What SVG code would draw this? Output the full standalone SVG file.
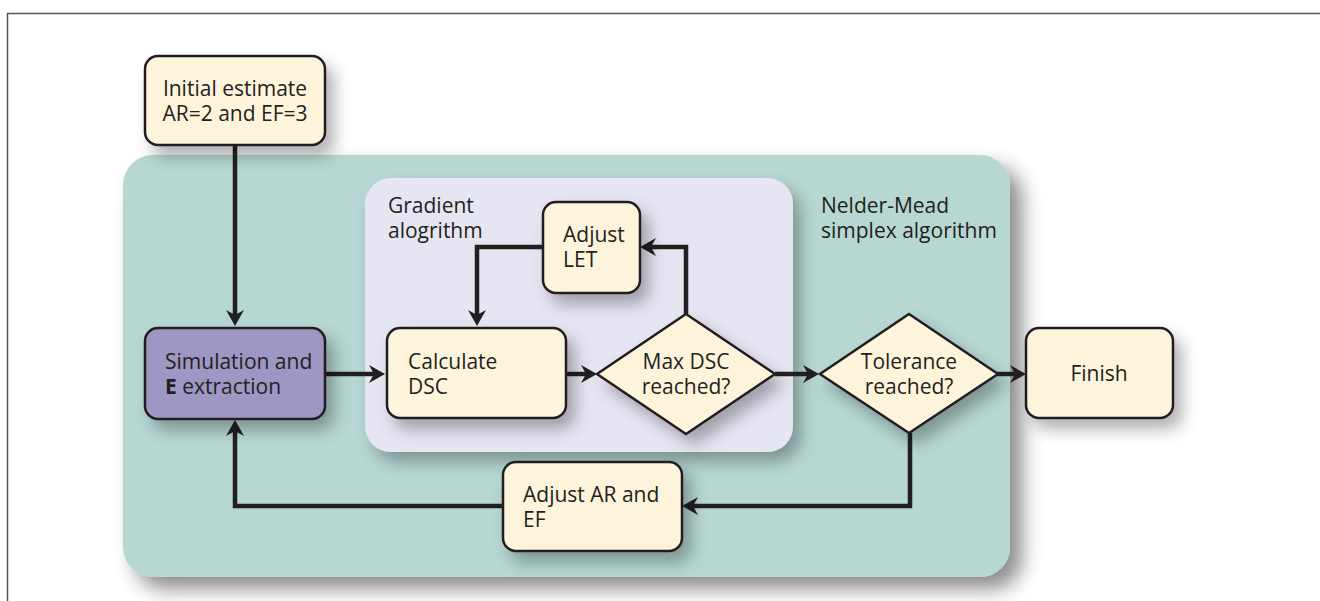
<svg xmlns="http://www.w3.org/2000/svg" width="1320" height="601" viewBox="0 0 1320 601">
<style>
.t{font-family:"Open Sans","Noto Sans",sans-serif;font-size:21px;fill:#231f20}
.box{fill:#fef4dc;stroke:#231f20;stroke-width:2.5}
.c{fill:none;stroke:#231f20;stroke-width:4.5;marker-end:url(#ah)}
</style>
<defs>
<filter id="sh" x="-30%" y="-30%" width="180%" height="180%">
<feDropShadow dx="8" dy="10" stdDeviation="8" flood-color="#000" flood-opacity="0.3"/>
</filter>
<filter id="shbig" x="-10%" y="-10%" width="125%" height="130%">
<feDropShadow dx="12" dy="12" stdDeviation="10" flood-color="#000" flood-opacity="0.45"/>
</filter>
<marker id="ah" markerUnits="userSpaceOnUse" markerWidth="16" markerHeight="18" viewBox="0 0 16 18" refX="5" refY="9" orient="auto">
<path d="M0,0 L16,9 L0,18 L5,9 Z" fill="#231f20"/>
</marker>
</defs>
<rect x="0" y="0" width="1320" height="601" fill="#fff"/>
<path d="M7.5,601 V13.5 H1320" fill="none" stroke="#555" stroke-width="1.5"/>

<g id="nelder-mead">
<rect x="123" y="155" width="887" height="422" rx="30" fill="#b6d7d2" filter="url(#shbig)"/>
<text class="t" x="821" y="213">Nelder-Mead</text>
<text class="t" x="821" y="238">simplex algorithm</text>
</g>
<g id="gradient">
<rect x="365" y="178" width="428" height="274" rx="26" fill="#e6e5f2" filter="url(#sh)"/>
<text class="t" x="388" y="213">Gradient</text>
<text class="t" x="388" y="238">alogrithm</text>
</g>

<g id="connectors">
<path class="c" d="M235,146 V315"/>
<path class="c" d="M325,374 H374"/>
<path class="c" d="M566,374 H586"/>
<path class="c" d="M775,374 H808"/>
<path class="c" d="M997,374 H1015"/>
<path class="c" d="M686,314 V247 H651"/>
<path class="c" d="M543,247 H477 V315"/>
<path class="c" d="M910,433 V506 H693"/>
<path class="c" d="M503,506 H235 V431"/>
</g>

<g id="initial">
<rect class="box" x="145" y="56" width="180" height="89" rx="13" filter="url(#sh)"/>
<text class="t" x="235" y="96" text-anchor="middle">Initial estimate</text>
<text class="t" x="235" y="121" text-anchor="middle">AR=2 and EF=3</text>
</g>
<g id="simulation">
<rect x="145" y="328" width="180" height="91" rx="13" fill="#9e96c3" stroke="#231f20" stroke-width="2.5" filter="url(#sh)"/>
<text class="t" x="165" y="369">Simulation and</text>
<text class="t" x="165" y="394"><tspan font-weight="bold">E</tspan> extraction</text>
</g>
<g id="calculate">
<rect class="box" x="387" y="328" width="179" height="90" rx="13" filter="url(#sh)"/>
<text class="t" x="408" y="369">Calculate</text>
<text class="t" x="408" y="394">DSC</text>
</g>
<g id="adjust-let">
<rect class="box" x="543" y="202" width="97" height="91" rx="13" filter="url(#sh)"/>
<text class="t" x="563" y="242">Adjust</text>
<text class="t" x="563" y="267">LET</text>
</g>
<g id="max-dsc">
<polygon class="box" points="686,314 775,374 686,434 597,374" filter="url(#sh)"/>
<text class="t" x="686" y="369" text-anchor="middle">Max DSC</text>
<text class="t" x="686" y="394" text-anchor="middle">reached?</text>
</g>
<g id="tolerance">
<polygon class="box" points="909,314 998,374 909,433 820,374" filter="url(#sh)"/>
<text class="t" x="909" y="369" text-anchor="middle">Tolerance</text>
<text class="t" x="909" y="394" text-anchor="middle">reached?</text>
</g>
<g id="finish">
<rect class="box" x="1026" y="328" width="147" height="90" rx="13" filter="url(#sh)"/>
<text class="t" x="1099" y="381" text-anchor="middle">Finish</text>
</g>
<g id="adjust-ar">
<rect class="box" x="503" y="462" width="179" height="89" rx="13" filter="url(#sh)"/>
<text class="t" x="523" y="502">Adjust AR and</text>
<text class="t" x="523" y="527">EF</text>
</g>
</svg>
